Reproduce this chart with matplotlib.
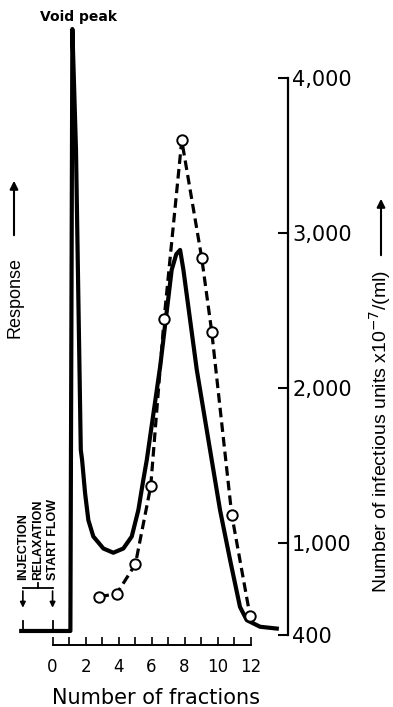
import numpy as np
import matplotlib.pyplot as plt

# chromatogram trace (response, arbitrary units: 0 = baseline, 100 = top of void peak)
resp_frac = [-1.9, 1.08, 1.2, 1.42, 1.71, 1.79, 1.97, 2.17, 2.47, 3.08, 3.68, 4.29,
             4.80, 5.20, 5.50, 5.71, 6.52, 7.22, 7.50, 7.73, 7.93, 8.74, 9.75,
             10.15, 10.76, 11.36, 11.77, 12.58, 13.59]
resp_val = [0, 0, 100, 79.9, 30.1, 28.4, 22.9, 18.4, 15.7, 13.7, 13.0, 13.7,
            15.7, 20.1, 25.1, 28.4, 43.9, 60.0, 62.6, 63.3, 60.0, 43.4, 26.7,
            20.1, 11.8, 4.0, 1.8, 0.7, 0.4]

# infectivity per fraction
inf_frac = [2.84, 3.89, 5.02, 5.95, 6.76, 7.83, 9.04, 9.65, 10.86, 11.97]
inf_units = [650, 670, 860, 1365, 2445, 3600, 2840, 2360, 1180, 525]

# right axis ticks
yticks = [400, 1000, 2000, 3000, 4000]
ytick_labels = ['400', '1,000', '2,000', '3,000', '4,000']
xticks = [0, 2, 4, 6, 8, 10, 12]

# events on the baseline
event_frac = [-1.8, -0.9, 0.0]
event_labels = ['INJECTION', 'RELAXATION', 'START FLOW']

fig = plt.figure(figsize=(3.93, 7.07), dpi=100)
ax = fig.add_axes([10/393, 62/707, 278/393, 625/707])
ax.set_xlim(-2.58, 14.27)
ax.set_ylim(338, 4378)

# response trace on its own scale
ax2 = ax.twinx()
ax2.axis('off')
ax2.plot(resp_frac, resp_val, color='k', lw=3, solid_joinstyle='round', zorder=2)
ax2.set_ylim(-2.33, 101.5)

ax.plot(inf_frac, inf_units, color='k', lw=2.3, linestyle=(0, (3, 1.6)),
        marker='o', markersize=7.5, markerfacecolor='white',
        markeredgecolor='k', markeredgewidth=1.4, zorder=3)
ax.set_zorder(ax2.get_zorder() + 1)
ax.patch.set_visible(False)

for s in ['left', 'top']:
    ax.spines[s].set_visible(False)
ax.spines['right'].set_bounds(400, 4000)
ax.spines['right'].set_linewidth(1.6)
ax.spines['bottom'].set_bounds(0, 12)
ax.spines['bottom'].set_linewidth(1.4)

ax.yaxis.tick_right()
ax.set_yticks(yticks)
ax.set_yticklabels(ytick_labels)
ax.tick_params(axis='y', which='both', left=False, right=True, labelleft=False,
               labelright=True, direction='in', length=7, width=1.5, pad=3,
               labelsize=15)

ax.set_xticks(xticks)
ax.set_xticks(range(1, 13, 2), minor=True)
ax.tick_params(axis='x', which='both', direction='in', length=6, width=1.2,
               pad=9, labelsize=12)
ax.set_xlabel('Number of fractions', fontsize=15)
ax.xaxis.set_label_coords(0.525, -0.069)

# event marks, arrows and labels
ax2.plot([event_frac[0], event_frac[2]], [7.1, 7.1], color='k', lw=1.3)
ax2.plot([event_frac[1], event_frac[1]], [7.1, 8.0], color='k', lw=1.3)
for f in [event_frac[0], event_frac[2]]:
    ax2.plot([f, f], [0, 1.6], color='k', lw=1.3)
    ax2.annotate('', xy=(f, 3.4), xytext=(f, 7.1),
                 arrowprops=dict(arrowstyle='-|>', color='k', lw=1.2, mutation_scale=8))
for f, lab in zip(event_frac, event_labels):
    ax2.text(f, 8.4, lab, rotation=90, ha='center', va='bottom', fontsize=9,
             weight='bold', family='Liberation Sans')

fig.text(78.5/393, 1 - 17.5/707, 'Void peak', fontsize=10, weight='bold',
         ha='center', va='center')

fig.text(15/393, 1 - 297/707, 'Response', rotation=90, fontsize=13,
         family='Liberation Sans', ha='center', va='center')
ax.annotate('', xy=(14/393, 1 - 178/707), xytext=(14/393, 1 - 238/707),
            xycoords='figure fraction', textcoords='figure fraction',
            arrowprops=dict(arrowstyle='-|>', color='k', lw=1.5, mutation_scale=12))

fig.text(380/393, 1 - 432/707, 'Number of infectious units x10$^{-7}$/(ml)',
         rotation=90, fontsize=14, family='Liberation Sans', ha='center', va='center')
ax.annotate('', xy=(381/393, 1 - 196/707), xytext=(381/393, 1 - 258/707),
            xycoords='figure fraction', textcoords='figure fraction',
            arrowprops=dict(arrowstyle='-|>', color='k', lw=1.5, mutation_scale=12))

fig.savefig('out.png', dpi=100)
